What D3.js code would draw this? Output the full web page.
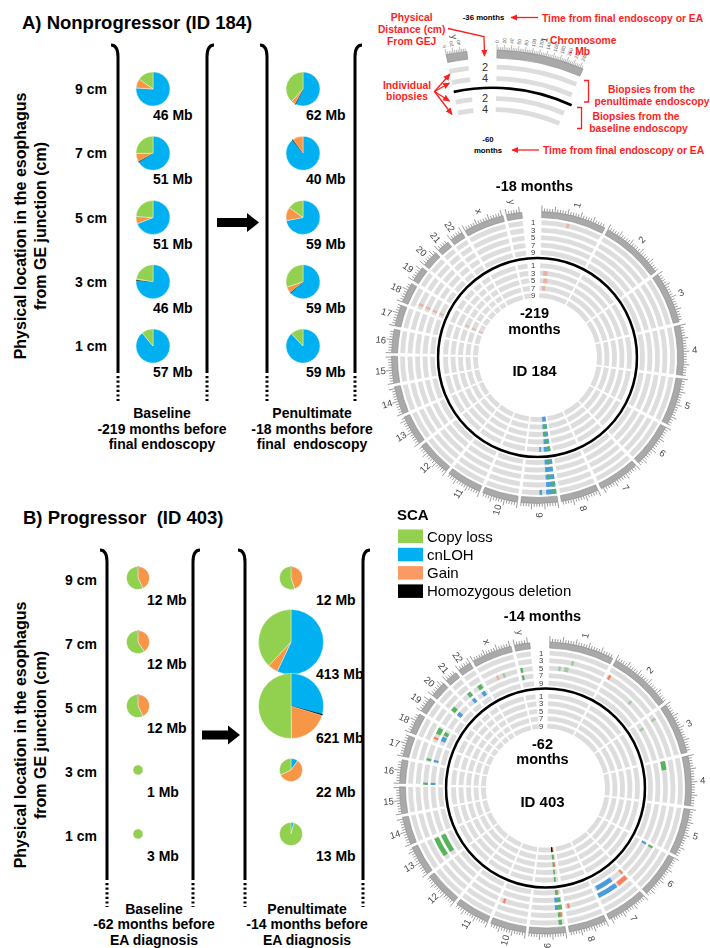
<!DOCTYPE html>
<html>
<head>
<meta charset="utf-8">
<script src="https://cdn.jsdelivr.net/npm/d3@7"></script>
<style>
  body { margin: 0; background: #fff; }
  svg { display: block; font-family: "Liberation Sans", Arial, Helvetica, sans-serif; }
  text { white-space: pre; }
</style>
</head>
<body>
<script>
// ---------------------------------------------------------------
// Data
// ---------------------------------------------------------------
const depthsCm = [9, 7, 5, 3, 1];
const scaTypes = ["loss", "cnloh", "gain", "hd"];
const scaNames = ["Copy loss", "cnLOH", "Gain", "Homozygous deletion"];
const pieSliceOrder = ["cnloh", "hd", "gain", "loss"];

// SCA composition of each biopsy (% of altered genome) with the total altered Mb
const piesA = [
  { visit: "baseline", cm: 9, mb: 46, cnloh: 76, hd: 0, gain: 9, loss: 15 },
  { visit: "baseline", cm: 7, mb: 51, cnloh: 66, hd: 0.6, gain: 8, loss: 25 },
  { visit: "baseline", cm: 5, mb: 51, cnloh: 69, hd: 0, gain: 7, loss: 24 },
  { visit: "baseline", cm: 3, mb: 46, cnloh: 76, hd: 0.6, gain: 1, loss: 22 },
  { visit: "baseline", cm: 1, mb: 57, cnloh: 89, hd: 0, gain: 0, loss: 11 },
  { visit: "penultimate", cm: 9, mb: 62, cnloh: 57, hd: 0.6, gain: 4, loss: 38 },
  { visit: "penultimate", cm: 7, mb: 40, cnloh: 89, hd: 0.6, gain: 10, loss: 0 },
  { visit: "penultimate", cm: 5, mb: 59, cnloh: 72, hd: 0, gain: 13, loss: 15 },
  { visit: "penultimate", cm: 3, mb: 59, cnloh: 63, hd: 0.6, gain: 6, loss: 30 },
  { visit: "penultimate", cm: 1, mb: 59, cnloh: 88, hd: 0, gain: 0, loss: 12 }
];
const piesB = [
  { visit: "baseline", cm: 9, mb: 12, cnloh: 0, hd: 0.6, gain: 42, loss: 57 },
  { visit: "baseline", cm: 7, mb: 12, cnloh: 0, hd: 0.6, gain: 40, loss: 59 },
  { visit: "baseline", cm: 5, mb: 12, cnloh: 0, hd: 0.6, gain: 42, loss: 57 },
  { visit: "baseline", cm: 3, mb: 1, cnloh: 0, hd: 0, gain: 0, loss: 100 },
  { visit: "baseline", cm: 1, mb: 3, cnloh: 0, hd: 0, gain: 0, loss: 100 },
  { visit: "penultimate", cm: 9, mb: 12, cnloh: 0, hd: 0.6, gain: 44, loss: 55 },
  { visit: "penultimate", cm: 7, mb: 413, cnloh: 57, hd: 0, gain: 5, loss: 38 },
  { visit: "penultimate", cm: 5, mb: 621, cnloh: 29, hd: 0.6, gain: 20, loss: 50 },
  { visit: "penultimate", cm: 3, mb: 22, cnloh: 10, hd: 0, gain: 58, loss: 32 },
  { visit: "penultimate", cm: 1, mb: 13, cnloh: 4, hd: 0, gain: 0, loss: 96 }
];

const captionsA = [["Baseline", "-219 months before", "final endoscopy"],
                   ["Penultimate", "-18 months before", "final  endoscopy"]];
const captionsB = [["Baseline", "-62 months before", "EA diagnosis"],
                   ["Penultimate", "-14 months before", "EA diagnosis"]];
const yTitleLines = ["Physical location in the esophagus", "from GE junction (cm)"];

// Genome layout (Mb)
const chromNames = ["1","2","3","4","5","6","7","8","9","10","11","12","13","14","15","16","17","18","19","20","21","22","X","Y"];
const chromLengthsMb = [249,243,198,191,181,171,159,146,141,136,135,134,115,107,103,90,81,78,59,63,48,51,155,59];

// SCA segments: [endoscopy, biopsy cm, chromosome, start Mb, end Mb, type]
const eventsA = [
  ["penultimate", 9, "9", 0, 40, "cnloh"], ["penultimate", 9, "9", 16, 24, "loss"],
  ["penultimate", 7, "9", 2, 40, "cnloh"],
  ["penultimate", 5, "9", 0, 40, "cnloh"], ["penultimate", 5, "9", 24, 32, "loss"],
  ["penultimate", 3, "9", 0, 40, "cnloh"], ["penultimate", 3, "9", 3, 14, "loss"],
  ["penultimate", 1, "9", 0, 42, "cnloh"], ["penultimate", 1, "9", 6, 14, "loss"], ["penultimate", 1, "9", 62, 66, "cnloh"],
  ["baseline", 9, "9", 4, 36, "cnloh"],
  ["baseline", 7, "9", 2, 38, "cnloh"], ["baseline", 7, "9", 20, 26, "loss"],
  ["baseline", 5, "9", 2, 38, "cnloh"], ["baseline", 5, "9", 22, 28, "loss"],
  ["baseline", 3, "9", 2, 38, "cnloh"], ["baseline", 3, "9", 18, 24, "loss"],
  ["baseline", 1, "9", 0, 40, "cnloh"], ["baseline", 1, "9", 8, 14, "loss"], ["baseline", 1, "9", 60, 63, "cnloh"]
];
// low-level calls
const faintEventsA = [
  ["penultimate", 3, "18", 16, 20, "gain"], ["penultimate", 5, "18", 16, 20, "gain"],
  ["penultimate", 7, "18", 16, 20, "gain"], ["penultimate", 9, "18", 16, 20, "gain"],
  ["baseline", 5, "18", 15, 19, "gain"], ["baseline", 7, "18", 15, 19, "gain"], ["baseline", 9, "18", 15, 19, "gain"],
  ["baseline", 3, "1", 20, 50, "gain"], ["baseline", 5, "1", 25, 55, "gain"], ["baseline", 7, "1", 20, 45, "gain"],
  ["penultimate", 1, "1", 105, 112, "gain"]
];

const eventsB = [
  ["baseline", 9, "9", 12, 18, "gain"], ["baseline", 9, "9", 18, 25, "loss"], ["baseline", 9, "9", 21.9, 22.1, "hd"],
  ["baseline", 7, "9", 12, 18, "gain"], ["baseline", 7, "9", 18, 25, "loss"],
  ["baseline", 5, "9", 12, 18, "gain"], ["baseline", 5, "9", 18, 25, "loss"],
  ["baseline", 3, "9", 21, 22, "loss"],
  ["baseline", 1, "9", 20, 23, "loss"],
  ["penultimate", 9, "9", 12, 18, "gain"], ["penultimate", 9, "9", 18, 25, "loss"],
  ["penultimate", 7, "6", 2, 6, "cnloh"],
  ["penultimate", 7, "7", 1, 8, "gain"], ["penultimate", 7, "7", 65, 150, "cnloh"],
  ["penultimate", 7, "9", 4, 16, "loss"], ["penultimate", 7, "9", 16, 34, "cnloh"],
  ["penultimate", 7, "13", 20, 110, "loss"],
  ["penultimate", 7, "16", 0, 4, "cnloh"],
  ["penultimate", 7, "17", 8, 13, "cnloh"],
  ["penultimate", 7, "18", 18, 42, "cnloh"], ["penultimate", 7, "18", 48, 66, "loss"],
  ["penultimate", 7, "20", 2, 22, "cnloh"],
  ["penultimate", 7, "21", 28, 44, "cnloh"],
  ["penultimate", 7, "22", 24, 42, "cnloh"],
  ["penultimate", 7, "Y", 6, 11, "loss"],
  ["penultimate", 5, "4", 0, 40, "loss"],
  ["penultimate", 5, "6", 3, 7, "loss"],
  ["penultimate", 5, "7", 2, 52, "gain"], ["penultimate", 5, "7", 62, 158, "cnloh"],
  ["penultimate", 5, "8", 126, 136, "gain"],
  ["penultimate", 5, "9", 2, 20, "loss"], ["penultimate", 5, "9", 20, 34, "cnloh"],
  ["penultimate", 5, "10", 112, 120, "gain"],
  ["penultimate", 5, "13", 20, 110, "loss"],
  ["penultimate", 5, "16", 0, 4, "loss"],
  ["penultimate", 5, "17", 8, 13, "loss"],
  ["penultimate", 5, "18", 16, 22, "gain"], ["penultimate", 5, "18", 40, 70, "loss"],
  ["penultimate", 5, "20", 2, 24, "loss"],
  ["penultimate", 5, "21", 28, 46, "loss"],
  ["penultimate", 5, "22", 24, 44, "loss"],
  ["penultimate", 5, "Y", 6, 12, "loss"],
  ["penultimate", 3, "2", 8, 13, "gain"],
  ["penultimate", 3, "9", 8, 14, "gain"], ["penultimate", 3, "9", 14, 22, "loss"],
  ["penultimate", 1, "9", 10, 24, "loss"]
];
const faintEventsB = [
  ["penultimate", 5, "X", 59, 63, "gain"], ["penultimate", 5, "X", 90, 95, "loss"],
  ["penultimate", 5, "1", 45, 52, "loss"], ["penultimate", 5, "1", 70, 90, "loss"],
  ["penultimate", 3, "1", 100, 104, "loss"], ["penultimate", 5, "2", 150, 156, "loss"],
  ["penultimate", 3, "3", 20, 26, "loss"], ["penultimate", 7, "3", 30, 34, "loss"]
];

// ---------------------------------------------------------------
// Setup
// ---------------------------------------------------------------
const W = 710, H = 948;
const RED = "#ff1e1e";
const pieColor = d3.scaleOrdinal().domain(scaTypes).range(["#92d050", "#00b0f0", "#f79646", "#000000"]);
const legendColor = d3.scaleOrdinal().domain(scaTypes).range(["#92d050", "#00b0f0", "#fc9a66", "#000000"]);
const circosColor = d3.scaleOrdinal().domain(scaTypes).range(["#55b35a", "#4a9ddb", "#f8825f", "#000000"]);
const pieRadius = d3.scaleThreshold().domain([5, 30, 100]).range([5, 11.5, 17, 32.5]);

const svg = d3.select("body").append("svg").attr("width", W).attr("height", H);
const defs = svg.append("defs");
defs.append("marker").attr("id", "redHead").attr("viewBox", "0 0 10 10")
  .attr("refX", 9).attr("refY", 5).attr("markerWidth", 5.5).attr("markerHeight", 5.5)
  .attr("orient", "auto").append("path").attr("d", "M0,0.5 L10,5 L0,9.5 z").attr("fill", RED);

const rad = d => d * Math.PI / 180;
const polar = (r, deg) => [r * Math.sin(rad(deg)), -r * Math.cos(rad(deg))];

// ---------------------------------------------------------------
// Left panels: pie charts per biopsy
// ---------------------------------------------------------------
const pieGen = d3.pie().sort(null).value(d => d.value);
const pieArc = d3.arc().innerRadius(0);

function bracket(g, x, top, solidEnd, dotEnd, side) {
  g.append("path")
    .attr("d", `M${x + side * 7},${top} Q${x},${top} ${x},${top + 12} L${x},${solidEnd}`)
    .attr("fill", "none").attr("stroke", "#000").attr("stroke-width", 3);
  g.append("line").attr("x1", x).attr("x2", x).attr("y1", solidEnd + 3).attr("y2", dotEnd)
    .attr("stroke", "#000").attr("stroke-width", 3).attr("stroke-dasharray", "2.2,2.4");
}

function drawPanel(p) {
  const g = svg.append("g");
  g.append("text").attr("x", p.titleX).attr("y", p.titleY)
    .attr("font-size", 18.5).attr("font-weight", "bold").text(p.title);

  yTitleLines.forEach((line, i) => {
    g.append("text").attr("transform", `translate(${p.yTitleX[i]},${p.yTitleCy}) rotate(-90)`)
      .attr("text-anchor", "middle").attr("font-size", 16).attr("font-weight", "bold").text(line);
  });

  const rowY = d3.scalePoint().domain(depthsCm).range(p.rowRange);
  g.append("g").selectAll("text").data(depthsCm).join("text")
    .attr("x", p.rowLabelX).attr("y", d => rowY(d)).attr("dy", "0.36em")
    .attr("text-anchor", "end").attr("font-size", 14).attr("font-weight", "bold")
    .text(d => `${d} cm`);

  p.columns.forEach((col, ci) => {
    bracket(g, col.left, p.bracketTop, p.solidEnd, p.dotEnd, -1);
    bracket(g, col.right, p.bracketTop, p.solidEnd, p.dotEnd, 1);

    const pies = p.pies.filter(d => d.visit === col.visit);
    pies.forEach(d => {
      const r = pieRadius(d.mb);
      const cy = rowY(d.cm) + p.pieDy;
      const slices = pieGen(pieSliceOrder.map(k => ({ key: k, value: d[k] })).filter(s => s.value > 0));
      const pg = g.append("g").attr("transform", `translate(${col.pieX},${cy})`);
      pg.selectAll("path").data(slices).join("path")
        .attr("d", s => pieArc.outerRadius(r)(s))
        .attr("fill", s => pieColor(s.data.key))
        .attr("stroke", s => s.data.key === "hd" ? "#000" : "#fff")
        .attr("stroke-width", s => s.data.key === "hd" ? 0.5 : 0.4);
      g.append("text").attr("x", col.labelX)
        .attr("y", rowY(d.cm) + (r > 20 ? p.labelDyBig : p.labelDy))
        .attr("font-size", 14).attr("font-weight", "bold").text(`${d.mb} Mb`);
    });

    p.captions[ci].forEach((line, li) => {
      g.append("text").attr("x", col.captionX).attr("y", p.captionY + li * 15.5)
        .attr("text-anchor", "middle").attr("font-size", 14).attr("font-weight", "bold").text(line);
    });
  });

  // arrow baseline -> penultimate
  const [ax0, ax1] = p.arrowX, ay = p.arrowY;
  g.append("path")
    .attr("d", `M${ax0},${ay - 4.5} L${ax1 - 12},${ay - 4.5} L${ax1 - 12},${ay - 9.5} L${ax1},${ay} L${ax1 - 12},${ay + 9.5} L${ax1 - 12},${ay + 4.5} L${ax0},${ay + 4.5} Z`)
    .attr("fill", "#000");
}

drawPanel({
  title: "A) Nonprogressor (ID 184)", titleX: 22, titleY: 28.5,
  yTitleX: [25.5, 45.5], yTitleCy: 226,
  rowRange: [89, 346], rowLabelX: 107, pieDy: 0, labelDy: 31, labelDyBig: 36,
  bracketTop: 45, solidEnd: 373, dotEnd: 401,
  pies: piesA, captions: captionsA, captionY: 418,
  arrowX: [217, 259], arrowY: 222.5,
  columns: [
    { visit: "baseline", pieX: 153, labelX: 153, left: 118, right: 207, captionX: 162 },
    { visit: "penultimate", pieX: 303, labelX: 306, left: 267, right: 355, captionX: 312 }
  ]
});

drawPanel({
  title: "B) Progressor  (ID 403)", titleX: 23, titleY: 524,
  yTitleX: [25.5, 45.5], yTitleCy: 735,
  rowRange: [580, 836], rowLabelX: 97, pieDy: -2, labelDy: 25, labelDyBig: 35,
  bracketTop: 550, solidEnd: 880, dotEnd: 907,
  pies: piesB, captions: captionsB, captionY: 913.5,
  arrowX: [202, 240], arrowY: 735,
  columns: [
    { visit: "baseline", pieX: 138, labelX: 147, left: 107, right: 193, captionX: 154 },
    { visit: "penultimate", pieX: 291, labelX: 316, left: 245, right: 363, captionX: 307 }
  ]
});

// ---------------------------------------------------------------
// Circos plots
// ---------------------------------------------------------------
const genomeStartDeg = 1.7, genomeEndDeg = 353.8, chromGapDeg = 1.4;
const degPerMb = (genomeEndDeg - genomeStartDeg - chromGapDeg * (chromNames.length - 1)) / d3.sum(chromLengthsMb);
let accDeg = genomeStartDeg;
const chroms = chromNames.map((name, i) => {
  const start = accDeg, end = start + chromLengthsMb[i] * degPerMb;
  accDeg = end + chromGapDeg;
  return { name, len: chromLengthsMb[i], start, end,
           scale: d3.scaleLinear().domain([0, chromLengthsMb[i]]).range([start, end]) };
});
const chromByName = new Map(chroms.map(c => [c.name, c]));
const trackRadius = {
  penultimate: d3.scaleLinear().domain([1, 9]).range([135, 105]),
  baseline: d3.scaleLinear().domain([1, 9]).range([92, 62])
};
const toEvent = e => ({ visit: e[0], cm: e[1], chr: e[2], start: e[3], end: e[4], type: e[5] });

function drawCircos(cx, cy, events, faint, texts) {
  const g = svg.append("g").attr("transform", `translate(${cx},${cy})`);
  const arc = d3.arc();
  const half = 2.4, minDeg = 1.1;

  const tracks = ["penultimate", "baseline"].flatMap(v => depthsCm.map(cm => ({ visit: v, cm, r: trackRadius[v](cm) })));
  tracks.forEach(t => {
    g.append("g").selectAll("path").data(chroms).join("path")
      .attr("d", c => arc({ innerRadius: t.r - half, outerRadius: t.r + half, startAngle: rad(c.start), endAngle: rad(c.end) }))
      .attr("fill", "#dddddd");
  });

  const segPath = e => {
    const c = chromByName.get(e.chr);
    let a0 = c.scale(e.start), a1 = c.scale(e.end);
    if (a1 - a0 < minDeg) { const m = (a0 + a1) / 2; a0 = m - minDeg / 2; a1 = m + minDeg / 2; }
    const r = trackRadius[e.visit](e.cm);
    return arc({ innerRadius: r - half, outerRadius: r + half, startAngle: rad(a0), endAngle: rad(a1) });
  };
  g.append("g").attr("opacity", 0.45).selectAll("path").data(faint.map(toEvent)).join("path")
    .attr("d", segPath).attr("fill", e => circosColor(e.type));
  g.append("g").selectAll("path").data(events.map(toEvent)).join("path")
    .attr("d", segPath).attr("fill", e => circosColor(e.type));

  // ideogram
  g.append("g").selectAll("path").data(chroms).join("path")
    .attr("d", c => arc({ innerRadius: 140, outerRadius: 146, startAngle: rad(c.start), endAngle: rad(c.end) }))
    .attr("fill", "#a9a9a9").attr("stroke", "#888").attr("stroke-width", 0.6);
  const ticks = chroms.flatMap(c => d3.range(0, c.len, 10).map(mb => ({ a: c.scale(mb), major: mb % 50 === 0 })));
  g.append("g").selectAll("line").data(ticks).join("line")
    .attr("x1", d => polar(146, d.a)[0]).attr("y1", d => polar(146, d.a)[1])
    .attr("x2", d => polar(d.major ? 152 : 149.3, d.a)[0]).attr("y2", d => polar(d.major ? 152 : 149.3, d.a)[1])
    .attr("stroke", "#8a8a8a").attr("stroke-width", 0.85);
  g.append("g").attr("opacity", 0.99).selectAll("text").data(chroms).join("text")
    .attr("transform", c => {
      const a = (c.start + c.end) / 2, [x, y] = polar(157.5, a);
      return `translate(${x},${y}) rotate(${a <= 180 ? a - 90 : a + 90})`;
    })
    .attr("text-anchor", "middle").attr("dominant-baseline", "central")
    .attr("font-size", 9.5).attr("fill", "#444").text(c => c.name.toLowerCase());

  // biopsy depth labels in the gap
  g.append("g").attr("opacity", 0.99).selectAll("text").data(tracks).join("text")
    .attr("x", -4.5).attr("y", t => -t.r).attr("dy", "0.36em")
    .attr("text-anchor", "middle").attr("font-size", 7.6).attr("fill", "#333").text(t => t.cm);

  // boundary between the two endoscopies
  g.append("circle").attr("r", 99.5).attr("fill", "none").attr("stroke", "#000").attr("stroke-width", 2.6);

  g.append("text").attr("x", -3).attr("y", -167).attr("text-anchor", "middle")
    .attr("font-size", 14.5).attr("font-weight", "bold").text(texts.outer);
  g.append("text").attr("x", -3).attr("y", -39.5).attr("text-anchor", "middle")
    .attr("font-size", 14.5).attr("font-weight", "bold").text(texts.inner);
  g.append("text").attr("x", -3).attr("y", -24).attr("text-anchor", "middle")
    .attr("font-size", 14.5).attr("font-weight", "bold").text("months");
  g.append("text").attr("x", -3).attr("y", 18.5).attr("text-anchor", "middle")
    .attr("font-size", 15).attr("font-weight", "bold").text(texts.id);
}

drawCircos(537.5, 357.5, eventsA, faintEventsA, { outer: "-18 months", inner: "-219", id: "ID 184" });
drawCircos(545.5, 788, eventsB, faintEventsB, { outer: "-14 months", inner: "-62", id: "ID 403" });

// ---------------------------------------------------------------
// Legend
// ---------------------------------------------------------------
{
  const g = svg.append("g");
  g.append("text").attr("x", 397).attr("y", 520).attr("font-size", 15).attr("font-weight", "bold").text("SCA");
  const row = d3.scaleLinear().domain([0, 1]).range([529.5, 547.8]);
  g.selectAll("rect").data(scaTypes).join("rect")
    .attr("x", 398).attr("y", (d, i) => row(i)).attr("width", 25).attr("height", 13.5)
    .attr("fill", d => legendColor(d));
  g.selectAll("text.lg").data(scaNames).join("text").attr("class", "lg")
    .attr("x", 427).attr("y", (d, i) => row(i) + 12).attr("font-size", 15).text(d => d);
}

// ---------------------------------------------------------------
// Key diagram (top right)
// ---------------------------------------------------------------
{
  const cx = 492, cy = 280;
  const g = svg.append("g").attr("transform", `translate(${cx},${cy})`);
  const arc = d3.arc();
  const miniDegPerMb = 0.0886;
  const miniChroms = [
    { name: "Y", len: chromLengthsMb[chromNames.indexOf("Y")], start: -11.5 },
    { name: "1", len: chromLengthsMb[chromNames.indexOf("1")], start: 1.25 }
  ].map(c => ({ ...c, end: c.start + c.len * miniDegPerMb,
                scale: d3.scaleLinear().domain([0, c.len]).range([c.start, c.start + c.len * miniDegPerMb]) }));
  const miniDepths = [2, 4];
  const miniRadius = {
    penultimate: d3.scaleLinear().domain([2, 4]).range([213, 201.5]),
    baseline: d3.scaleLinear().domain([2, 4]).range([181.5, 170.5])
  };
  const miniTracks = ["penultimate", "baseline"].flatMap(v => miniDepths.map(cm => ({ cm, r: miniRadius[v](cm) })));
  miniTracks.forEach(t => {
    g.append("g").selectAll("path").data(miniChroms).join("path")
      .attr("d", c => arc({ innerRadius: t.r - 2.4, outerRadius: t.r + 2.4, startAngle: rad(c.start), endAngle: rad(c.end) }))
      .attr("fill", "#dddddd");
  });
  g.append("g").selectAll("text").data(miniTracks).join("text")
    .attr("x", -7).attr("y", t => -t.r).attr("dy", "0.36em").attr("text-anchor", "middle")
    .attr("font-size", 11).attr("fill", "#333").text(t => t.cm);

  g.append("path").attr("d", arc({ innerRadius: 192, outerRadius: 192, startAngle: rad(-11.5), endAngle: rad(24.5) }))
    .attr("fill", "none").attr("stroke", "#000").attr("stroke-width", 2.6);

  g.append("g").selectAll("path").data(miniChroms).join("path")
    .attr("d", c => arc({ innerRadius: 222, outerRadius: 230, startAngle: rad(c.start), endAngle: rad(c.end) }))
    .attr("fill", "#a9a9a9").attr("stroke", "#888").attr("stroke-width", 0.6);
  const mticks = miniChroms.flatMap(c => d3.range(0, c.len, 5).map(mb => ({ a: c.scale(mb), mb, major: mb % 20 === 0 })));
  g.append("g").selectAll("line").data(mticks).join("line")
    .attr("x1", d => polar(230, d.a)[0]).attr("y1", d => polar(230, d.a)[1])
    .attr("x2", d => polar(d.major ? 235.5 : 233, d.a)[0]).attr("y2", d => polar(d.major ? 235.5 : 233, d.a)[1])
    .attr("stroke", "#8a8a8a").attr("stroke-width", 0.6);
  g.append("g").attr("opacity", 0.99).selectAll("text").data(mticks.filter(d => d.major)).join("text")
    .attr("transform", d => { const [x, y] = polar(237, d.a); return `translate(${x},${y}) rotate(${d.a - 90})`; })
    .attr("dominant-baseline", "central").attr("font-size", 4.8).attr("fill", "#555").text(d => d.mb);
  g.append("g").attr("opacity", 0.99).selectAll("text").data(miniChroms).join("text")
    .attr("transform", c => { const a = (c.start + c.end) / 2, [x, y] = polar(246, a);
      return `translate(${x},${y}) rotate(${a >= 0 ? a - 90 : a + 90})`; })
    .attr("text-anchor", "middle").attr("dominant-baseline", "central")
    .attr("font-size", 9).attr("fill", "#444").text(c => c.name.toLowerCase());

  // annotations
  const a = svg.append("g");
  const redText = (x, y, s, anchor) => a.append("text").attr("x", x).attr("y", y)
    .attr("text-anchor", anchor || "middle").attr("font-size", 10.3).attr("font-weight", "bold")
    .attr("fill", RED).text(s);
  const redLine = (pts) => a.append("path").attr("d", d3.line()(pts)).attr("fill", "none")
    .attr("stroke", RED).attr("stroke-width", 1.3).attr("marker-end", "url(#redHead)");

  a.append("text").attr("x", 483.5).attr("y", 19.5).attr("text-anchor", "middle")
    .attr("font-size", 7.8).attr("font-weight", "bold").text("-36 months");
  a.append("text").attr("x", 488).attr("y", 141.5).attr("text-anchor", "middle")
    .attr("font-size", 7.8).attr("font-weight", "bold").text("-60");
  a.append("text").attr("x", 488).attr("y", 152.5).attr("text-anchor", "middle")
    .attr("font-size", 7.8).attr("font-weight", "bold").text("months");

  redText(542, 21.5, "Time from final endoscopy or EA", "start");
  redLine([[538, 17.5], [511, 17.5]]);
  redText(543, 154, "Time from final endoscopy or EA", "start");
  redLine([[539, 150], [512, 150]]);

  redText(411.7, 20.5, "Physical");
  redText(411.7, 33, "Distance (cm)");
  redText(411.7, 45.3, "From GEJ");
  redLine([[448, 28.5], [484, 36.5], [484.5, 56]]);

  redText(550, 44, "Chromosome", "start");
  redText(569, 55, "- Mb", "start");

  redText(407, 89, "Individual");
  redText(407, 100, "biopsies");
  [[450, 74], [449.5, 83], [449.5, 101], [452, 114.5]].forEach(pt => redLine([[434.5, 91.5], pt]));

  a.append("path").attr("d", "M584,80.5 L588.5,80.5 L588.5,102 L584,102").attr("fill", "none").attr("stroke", RED).attr("stroke-width", 1.3);
  a.append("path").attr("d", "M577,107.5 L581.5,107.5 L581.5,128.5 L577,128.5").attr("fill", "none").attr("stroke", RED).attr("stroke-width", 1.3);
  redText(651.5, 93, "Biopsies from the");
  redText(652, 105, "penultimate endoscopy");
  redText(636, 120, "Biopsies from the");
  redText(638.5, 131.5, "baseline endoscopy");
}
</script>
</body>
</html>
